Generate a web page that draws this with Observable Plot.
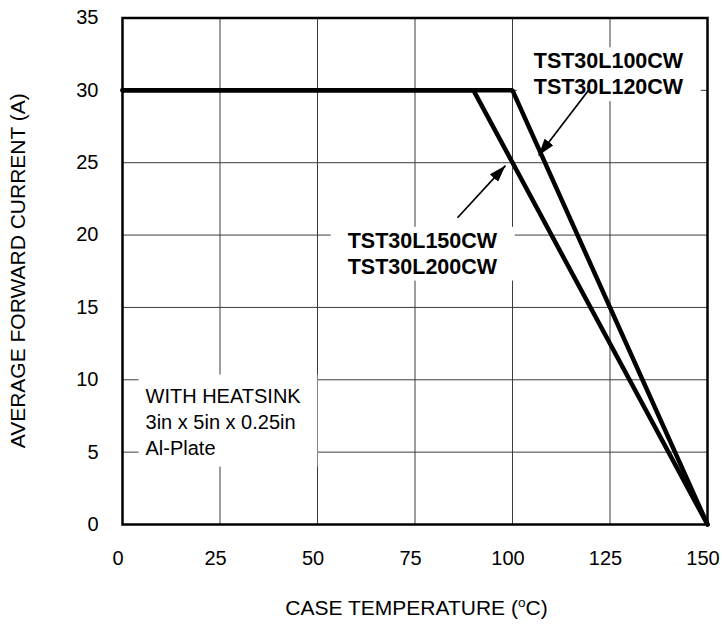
<!DOCTYPE html>
<html><head><meta charset="utf-8">
<script src="https://cdn.jsdelivr.net/npm/d3@7"></script>
<script src="https://cdn.jsdelivr.net/npm/@observablehq/plot@0.6"></script>
<style>
body{margin:0;background:#fff}
svg{font-family:"Liberation Sans",Arial,sans-serif}
</style>
</head><body><div id="chart"></div>
<script>
// ---- data ----
const xTicks = [0, 25, 50, 75, 100, 125, 150];
const yTicks = [0, 5, 10, 15, 20, 25, 30, 35];
const seriesNames = ["TST30L150CW/TST30L200CW", "TST30L100CW/TST30L120CW"];
const tempLow = [0, 90, 150];     // 150/200 V parts
const currLow = [30, 30, 0];
const tempHigh = [0, 100, 150];   // 100/120 V parts
const currHigh = [30, 30, 0];

const labelTexts = ["TST30L100CW\nTST30L120CW", "TST30L150CW\nTST30L200CW"];
const labelX = [124.6, 76.9];
const labelY = [31.2, 18.8];

const noteText = ["WITH HEATSINK\n3in x 5in x 0.25in\nAl-Plate"];
const noteX = [5.9];
const noteY = [7.2];

const arrowFromX = [119.5, 85.9];
const arrowFromY = [30.0, 21.2];
const arrowToX = [106.7, 98.2];
const arrowToY = [25.5, 24.8];

const xLabel = ["CASE TEMPERATURE (", "o", "C)"];
const yLabel = "AVERAGE FORWARD CURRENT (A)";

// ---- tables ----
const rows = [
  ...tempLow.map((t, i) => ({s: seriesNames[0], t, a: currLow[i]})),
  ...tempHigh.map((t, i) => ({s: seriesNames[1], t, a: currHigh[i]}))
];
const labels = labelTexts.map((text, i) => ({text, x: labelX[i], y: labelY[i]}));
const notes = noteText.map((text, i) => ({text, x: noteX[i], y: noteY[i]}));
const arrows = arrowFromX.map((x1, i) => ({x1, y1: arrowFromY[i], x2: arrowToX[i], y2: arrowToY[i]}));

const W = 722, H = 624;
const plot = Plot.plot({
  width: W, height: H,
  marginLeft: 122, marginRight: 15, marginTop: 17.5, marginBottom: 100,
  style: {fontFamily: "Liberation Sans, Arial, sans-serif", fontSize: "20px", background: "white", color: "black"},
  x: {domain: [0, 150], label: null},
  y: {domain: [0, 35], label: null},
  marks: [
    Plot.gridX(xTicks, {stroke: "#3c3c3c", strokeOpacity: 1, strokeWidth: 1}),
    Plot.gridY(yTicks, {stroke: "#3c3c3c", strokeOpacity: 1, strokeWidth: 1}),
    Plot.axisX(xTicks, {tickSize: 0, tickPadding: 26, fontSize: 20, label: null, tickFormat: d => d, dx: -4.5}),
    Plot.axisY(yTicks, {tickSize: 0, tickPadding: 24, fontSize: 20, label: null, tickFormat: d => d}),
    Plot.text(labels, {x: "x", y: "y", text: "text", className: "boxed-label", fontWeight: "bold", fontSize: 21.5, lineHeight: 1.2, textAnchor: "middle", fill: "black"}),
    Plot.text(notes, {x: "x", y: "y", text: "text", className: "boxed-note", fontSize: 20, lineHeight: 1.3, textAnchor: "start", fill: "black"}),
    Plot.line(rows, {x: "t", y: "a", z: "s", stroke: "black", strokeWidth: 4.5, strokeLinejoin: "miter"}),
    Plot.link(arrows, {x1: "x1", y1: "y1", x2: "x2", y2: "y2", stroke: "black", strokeWidth: 1.7, className: "ann-arrow"}),
    Plot.frame({stroke: "black", strokeWidth: 2.5})
  ]
});
document.getElementById("chart").appendChild(plot);

const svg = d3.select(plot);
// white boxes behind annotation text
function boxes(cls, pad) {
  svg.selectAll("g." + cls).each(function() {
    const g = this;
    d3.select(g).selectAll("text").each(function() {
      const bb = this.getBBox();
      const r = document.createElementNS("http://www.w3.org/2000/svg", "rect");
      r.setAttribute("x", bb.x - pad.l);
      r.setAttribute("y", bb.y - pad.t);
      r.setAttribute("width", bb.width + pad.l + pad.r);
      r.setAttribute("height", bb.height + pad.t + pad.b);
      r.setAttribute("fill", "white");
      r.setAttribute("stroke", "none");
      const tr = this.getAttribute("transform");
      if (tr) r.setAttribute("transform", tr);
      g.insertBefore(r, this);
    });
  });
}
boxes("boxed-label", {l: 17, r: 17, t: 2, b: 2});
boxes("boxed-note", {l: 7, r: 16, t: 10, b: 8});

// filled arrowheads
const defs = svg.insert("defs", ":first-child");
defs.append("marker")
  .attr("id", "ahead")
  .attr("viewBox", "-17 -5.5 17 11")
  .attr("markerWidth", 17).attr("markerHeight", 11)
  .attr("markerUnits", "userSpaceOnUse")
  .attr("orient", "auto")
  .attr("refX", 0).attr("refY", 0)
  .append("path").attr("d", "M-17,-5.5L0,0L-17,5.5Z").attr("fill", "black");
svg.selectAll("g.ann-arrow path").attr("marker-end", "url(#ahead)");

// axis titles
const xs = plot.scale("x"), ys = plot.scale("y");
const cx = (xs.range[0] + xs.range[1]) / 2 + 2;
const cy = (ys.range[0] + ys.range[1]) / 2;
const xt = svg.append("text")
  .attr("x", cx).attr("y", H - 9)
  .attr("text-anchor", "middle")
  .attr("font-size", 21).attr("fill", "black");
xt.append("tspan").text(xLabel[0]);
xt.append("tspan").attr("dy", -8).attr("font-size", 13.5).text(xLabel[1]);
xt.append("tspan").attr("dy", 8).text(xLabel[2]);
svg.append("text")
  .attr("transform", `translate(17,${cy}) rotate(-90)`)
  .attr("text-anchor", "middle")
  .attr("dominant-baseline", "central")
  .attr("font-size", 21).attr("fill", "black")
  .text(yLabel);
</script>
</body></html>
